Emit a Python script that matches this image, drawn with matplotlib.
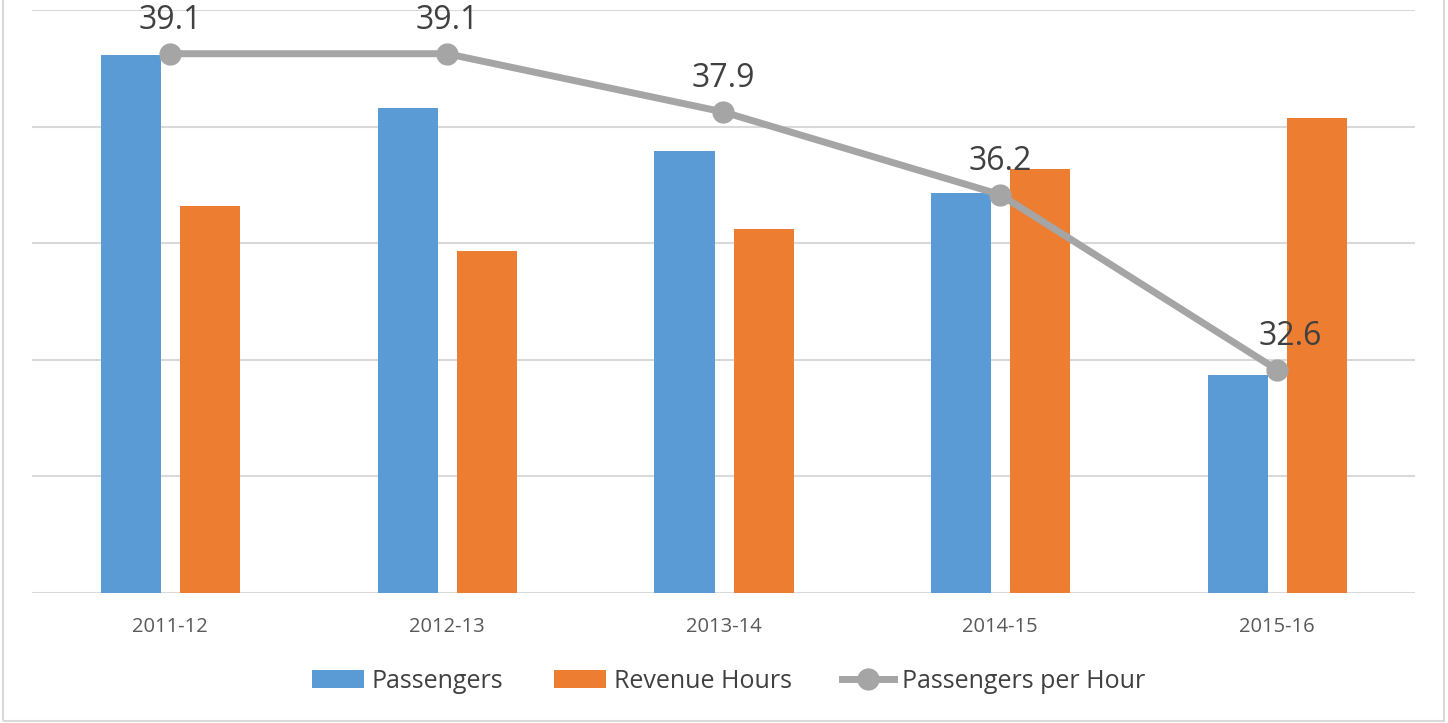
import numpy as np
import matplotlib.pyplot as plt
from matplotlib.patches import Rectangle

years = ['2011-12', '2012-13', '2013-14', '2014-15', '2015-16']
passengers = [4.61, 4.16, 3.79, 3.43, 1.87]       # primary axis has no tick labels
revenue_hours = [3.32, 2.93, 3.12, 3.64, 4.07]
per_hour = [39.1, 39.1, 37.9, 36.2, 32.6]

blue = '#5B9BD5'
orange = '#ED7D31'
gray = '#A5A5A5'

plt.rcParams['font.family'] = ['Open Sans', 'DejaVu Sans']

fig = plt.figure(figsize=(14.48, 7.23), dpi=100)
ax = fig.add_axes([0.0221, 0.1798, 0.9551, 0.8064])

x = np.arange(len(years))
w = 0.217
ax.bar(x - 0.141, passengers, w, color=blue, label='Passengers', zorder=2)
ax.bar(x + 0.145, revenue_hours, w, color=orange, label='Revenue Hours', zorder=2)

ax.set_xlim(-0.5, len(years) - 0.5)
ax.set_ylim(0, 5)
ax.set_yticks(range(6))
ax.set_yticklabels([])
ax.tick_params(axis='y', length=0)
ax.tick_params(axis='x', length=0, pad=17, labelsize=14.5, labelcolor='#595959')
ax.set_xticks(x)
ax.set_xticklabels(years)
ax.grid(axis='y', color='#D9D9D9', linewidth=1.5, zorder=0)
for s in ax.spines.values():
    s.set_visible(False)

# secondary axis for the line
ax2 = ax.twinx()
ax2.set_ylim(28, 40)
ax2.plot(x, per_hour, color=gray, linewidth=5, marker='o', markersize=15,
         label='Passengers per Hour', zorder=3)
ax2.set_yticks([])
for s in ax2.spines.values():
    s.set_visible(False)
for i, (xi, v) in enumerate(zip(x, per_hour)):
    dx = 10 if i == len(x) - 1 else 0
    ax2.annotate(f'{v:.1f}', (xi, v), xytext=(dx, 12), textcoords='offset points',
                 ha='center', va='bottom', fontsize=23, color='#404040')

# legend
h1, l1 = ax.get_legend_handles_labels()
h2, l2 = ax2.get_legend_handles_labels()
fig.legend(h1 + h2, l1 + l2, loc='center', bbox_to_anchor=(0.503, 0.058), ncol=3,
           frameon=False, fontsize=18, handlelength=2.1, handletextpad=0.3,
           columnspacing=2.0, labelcolor='#404040')

# light outer border
fig.patches.append(Rectangle((0.002, 0.003), 0.995, 1.1, transform=fig.transFigure,
                             fill=False, edgecolor='#D9D9D9', linewidth=1.5))

plt.savefig('out.png', dpi=100)
